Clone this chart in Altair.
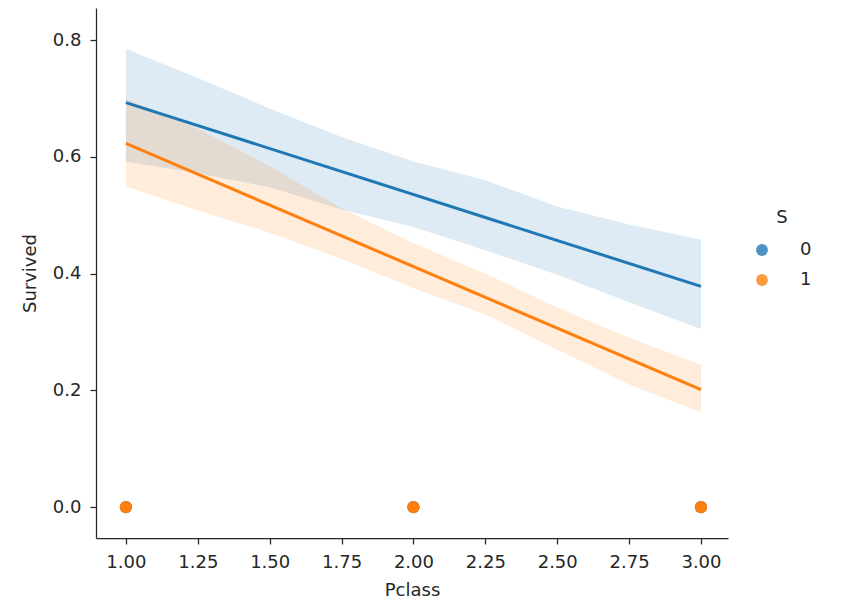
import altair as alt
import pandas as pd

# ---- data ----
groups = ["0", "1"]
band_x = [1.0, 1.25, 1.5, 1.75, 2.0, 2.25, 2.5, 2.75, 3.0]
s0_upper = [0.785, 0.735, 0.683, 0.634, 0.592, 0.560, 0.515, 0.484, 0.458]
s0_lower = [0.592, 0.572, 0.548, 0.510, 0.480, 0.440, 0.398, 0.351, 0.305]
s1_upper = [0.700, 0.648, 0.584, 0.512, 0.452, 0.400, 0.342, 0.290, 0.244]
s1_lower = [0.549, 0.508, 0.470, 0.425, 0.375, 0.330, 0.270, 0.210, 0.162]
line_x = [1.0, 3.0]
s0_line = [0.693, 0.378]
s1_line = [0.623, 0.201]
point_x = [1.0, 2.0, 3.0]
s0_points = [0.0, 0.0, 0.0]
s1_points = [0.0, 0.0, 0.0]
x_ticks = [1.0, 1.25, 1.5, 1.75, 2.0, 2.25, 2.5, 2.75, 3.0]
y_ticks = [0.0, 0.2, 0.4, 0.6, 0.8]

band_df = pd.DataFrame(
    [{"Pclass": x, "lo": l, "hi": u, "S": "0"} for x, l, u in zip(band_x, s0_lower, s0_upper)]
    + [{"Pclass": x, "lo": l, "hi": u, "S": "1"} for x, l, u in zip(band_x, s1_lower, s1_upper)]
)
line_df = pd.DataFrame(
    [{"Pclass": x, "Survived": y, "S": "0"} for x, y in zip(line_x, s0_line)]
    + [{"Pclass": x, "Survived": y, "S": "1"} for x, y in zip(line_x, s1_line)]
)
pt_df = pd.DataFrame(
    [{"Pclass": x, "Survived": y, "S": "0", "o": 0} for x, y in zip(point_x, s0_points)]
    + [{"Pclass": x, "Survived": y, "S": "1", "o": 1} for x, y in zip(point_x, s1_points)]
)

TXT = "#262626"
FONT = "DejaVu Sans"
FS = 18

xs = alt.Scale(domain=[0.896, 3.094], nice=False, zero=False)
ys = alt.Scale(domain=[-0.053, 0.855], nice=False, zero=False)
cs = alt.Scale(domain=groups, range=["#1f77b4", "#ff7f0e"])

x_axis = alt.Axis(values=x_ticks, format=".2f", grid=False, title="Pclass",
                  labelPadding=9, titlePadding=10)
y_axis = alt.Axis(values=y_ticks, format=".1f", grid=False, title="Survived",
                  labelPadding=9, titlePadding=13)

legend = alt.Legend(
    title="S",
    orient="none",
    legendX=657,
    legendY=201,
    symbolType="circle",
    symbolSize=140,
    symbolOpacity=0.8,
    symbolStrokeWidth=0,
    labelOffset=29,
    rowPadding=12,
    titleAnchor="middle",
    titlePadding=14,
)

color = alt.Color("S:N", scale=cs, legend=legend)

bands = alt.Chart(band_df).mark_area(opacity=0.15).encode(
    x=alt.X("Pclass:Q", scale=xs, axis=x_axis),
    y=alt.Y("lo:Q", scale=ys, axis=y_axis),
    y2="hi:Q",
    color=color,
    detail="S:N",
)

lines = alt.Chart(line_df).mark_line(strokeWidth=3).encode(
    x=alt.X("Pclass:Q", scale=xs),
    y=alt.Y("Survived:Q", scale=ys),
    color=color,
)

points = alt.Chart(pt_df).mark_circle(size=150, opacity=1).encode(
    x=alt.X("Pclass:Q", scale=xs),
    y=alt.Y("Survived:Q", scale=ys),
    color=color,
    order="o:Q",
)

chart = (
    alt.layer(bands, lines, points)
    .properties(
        width=632,
        height=530,
        autosize=alt.AutoSizeParams(type="none"),
        padding={"left": 88, "top": 0, "right": 109, "bottom": 66},
    )
    .configure_view(stroke=None)
    .configure_axis(
        domainColor=TXT,
        domainWidth=1.25,
        tickColor=TXT,
        tickWidth=1.25,
        tickSize=6,
        labelColor=TXT,
        titleColor=TXT,
        labelFont=FONT,
        titleFont=FONT,
        labelFontSize=FS,
        titleFontSize=FS,
        titleFontWeight="normal",
    )
    .configure_legend(
        labelFont=FONT,
        titleFont=FONT,
        labelFontSize=FS,
        titleFontSize=FS,
        titleFontWeight="normal",
        labelColor=TXT,
        titleColor=TXT,
    )
)

chart.save("out.html", embed_options={"renderer": "svg", "actions": False})
